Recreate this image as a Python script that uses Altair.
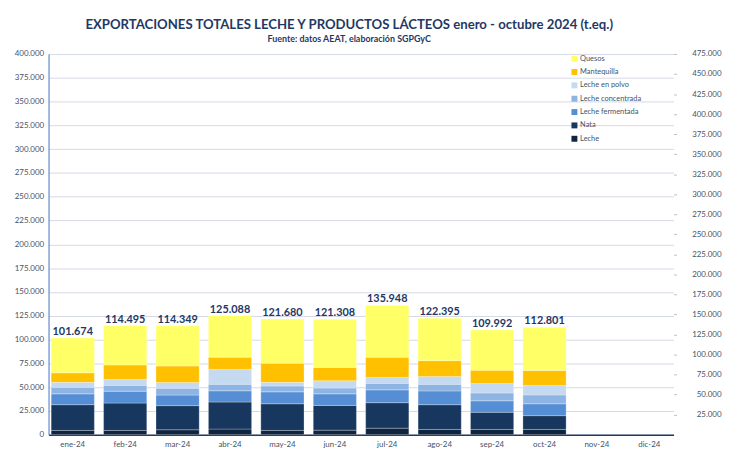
import altair as alt
import pandas as pd

meses = ["ene-24", "feb-24", "mar-24", "abr-24", "may-24", "jun-24",
         "jul-24", "ago-24", "sep-24", "oct-24", "nov-24", "dic-24"]
meses_datos = meses[:10]

productos = ["Quesos", "Mantequilla", "Leche en polvo", "Leche concentrada",
             "Leche fermentada", "Nata", "Leche"]
colores = ["#FFFF66", "#FFC000", "#C5D9F1", "#8EB4E3", "#558ED5", "#17375E", "#10243E"]

# toneladas equivalentes
leche = [4500, 4500, 5200, 5900, 4500, 4800, 6900, 5500, 5500, 5500]
nata = [27000, 28700, 25300, 28400, 28000, 26000, 26700, 26000, 18000, 14500]
leche_fermentada = [11400, 12500, 11100, 11800, 12500, 12100, 13500, 14500, 12100, 12500]
leche_concentrada = [6900, 6200, 7300, 6900, 6200, 6200, 6900, 6900, 8300, 9300]
leche_en_polvo = [5200, 6200, 5900, 15600, 3800, 7600, 6200, 8300, 10000, 10000]
mantequilla = [10000, 15200, 17300, 12800, 20100, 13900, 21100, 16600, 13900, 15600]
quesos = [36674, 41195, 42249, 43688, 46580, 50708, 54648, 44595, 42192, 45401]
totales = [101674, 114495, 114349, 125088, 121680, 121308, 135948, 122395, 109992, 112801]

series = {
    "Leche": leche,
    "Nata": nata,
    "Leche fermentada": leche_fermentada,
    "Leche concentrada": leche_concentrada,
    "Leche en polvo": leche_en_polvo,
    "Mantequilla": mantequilla,
    "Quesos": quesos,
}
orden = {p: i for i, p in enumerate(series.keys())}

rows = []
for prod, vals in series.items():
    for m, v in zip(meses_datos, vals):
        rows.append({"mes": m, "producto": prod, "valor": v, "orden": orden[prod]})
df = pd.DataFrame(rows)
df_tot = pd.DataFrame({"mes": meses_datos, "total": totales})

FONT = "Lato"
NAVY = "#1F3864"
LABEL = "#44546A"

x_enc = alt.X("mes:N", scale=alt.Scale(domain=meses, paddingInner=0.176, paddingOuter=0.05),
              sort=meses,
              axis=alt.Axis(title=None, labelAngle=0, ticks=False, labelFontSize=8,
                            labelColor=LABEL, labelFont=FONT, labelPadding=6,
                            domainColor=NAVY, domainWidth=1.5, grid=False))

yscale = alt.Scale(domain=[0, 400000], nice=False, zero=True)
left_axis = alt.Axis(title=None, values=list(range(0, 400001, 25000)), format=",.0f",
                     labelFontSize=8, labelColor=LABEL, labelFont=FONT,
                     ticks=False, labelPadding=5, domainColor="#4472C4",
                     domainWidth=1, grid=True, gridColor="#D6D9E8", gridWidth=1)

bars = alt.Chart(df).mark_bar(stroke="#FFFFFF", strokeWidth=0.6, strokeOpacity=0.45).encode(
    x=x_enc,
    y=alt.Y("valor:Q", stack="zero", scale=yscale, axis=left_axis),
    color=alt.Color("producto:N",
                    scale=alt.Scale(domain=productos, range=colores),
                    legend=alt.Legend(title=None, orient="none", legendX=528, legendY=1,
                                      symbolType="square", symbolSize=36,
                                      symbolStrokeWidth=0, labelFontSize=7.5,
                                      labelFont=FONT, labelColor=LABEL,
                                      rowPadding=4.5, labelOffset=2)),
    order=alt.Order("orden:Q", sort="ascending"),
)

labels = alt.Chart(df_tot).mark_text(
    font=FONT, fontSize=11, fontWeight="bold", color=NAVY, baseline="alphabetic", dy=-3
).encode(
    x=alt.X("mes:N", sort=meses, scale=alt.Scale(domain=meses)),
    y=alt.Y("total:Q", scale=yscale, axis=left_axis),
    text=alt.Text("total:Q", format=",.0f"),
)

right = alt.Chart(df_tot).mark_point(opacity=0).encode(
    x=alt.X("mes:N", sort=meses, scale=alt.Scale(domain=meses)),
    y=alt.Y("total:Q", scale=alt.Scale(domain=[0, 475000], nice=False),
            axis=alt.Axis(orient="right", title=None, values=list(range(25000, 475001, 25000)),
                          format=",.0f", labelFontSize=8, labelColor=LABEL, labelFont=FONT,
                          labelAlign="right", labelPadding=45, tickSize=3,
                          tickColor="#BFBFBF", domain=False, grid=False)),
)

chart = alt.layer(alt.layer(bars, labels), right).resolve_scale(y="independent").properties(
    width=632,
    height=385,
    autosize="none",
    padding={"left": 41, "top": 44, "right": 51, "bottom": 13},
    title=alt.TitleParams(
        text="EXPORTACIONES TOTALES LECHE Y PRODUCTOS LÁCTEOS enero - octubre 2024 (t.eq.)",
        subtitle="Fuente: datos AEAT, elaboración SGPGyC",
        font=FONT, fontSize=13.3, fontWeight="bold", color=NAVY,
        subtitleFont=FONT, subtitleFontSize=9, subtitleFontWeight="bold",
        subtitleColor=NAVY, anchor="middle", dx=-12, offset=6, subtitlePadding=4,
    ),
).configure(
    locale={"number": {"decimal": ",", "thousands": ".", "grouping": [3], "currency": ["", " €"]}}
).configure_view(stroke=None)

chart.save("out.html", embed_options={"renderer": "svg", "actions": False})
